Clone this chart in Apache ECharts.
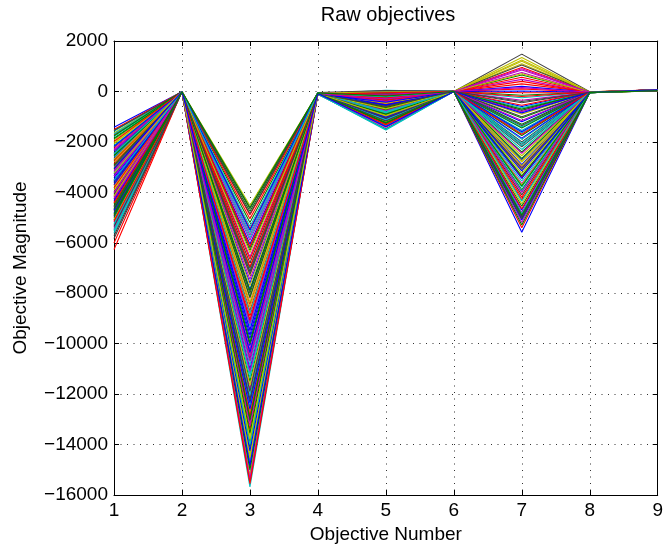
<!DOCTYPE html>
<html>
<head>
<meta charset="utf-8">
<script src="https://cdn.jsdelivr.net/npm/echarts@6/dist/echarts.min.js"></script>
<style>
  html, body { margin: 0; padding: 0; background: #fff; }
  #echart { width: 666px; height: 549px; }
</style>
</head>
<body>
<div id="echart"></div>
<script>
// objective numbers on the x axis
var objNumbers = [1, 2, 3, 4, 5, 6, 7, 8, 9];

// raw objective values, one entry per solution
var obj1 = [-3420, -1850, -4890, -2580, -5310, -2010, -3970, -1420, -4470, -2860,
            -5620, -3130, -1650, -4120, -2370, -5100, -3700, -2140, -4680, -1930,
            -4260, -3280, -2710, -6010, -1580, -5460, -3000, -2440, -4810, -3550,
            -1720, -5240, -2290, -3840, -4050, -2650, -5030, -1510, -3210, -4600,
            -2080, -5830, -3490, -2920, -4390, -1790, -5170, -3760, -2500, -4960,
            -3070, -2230, -5540, -4180, -2790, -3630, -3340, -4540, -6270, -2190,
            -5390, -3910, -4750, -4330, -2550, -4420, -1690, -3360, -5080, -2960,
            -4700, -1880, -3820, -5280, -2330, -4150, -1550, -3580, -4930, -2740,
            -5490, -3170, -2060, -4570, -3690, -1760, -5150, -2470, -4010, -3250,
            -5720, -2180, -4860, -1980, -3520, -4240, -2680, -5350, -3050, -4650];
var obj2 = [-12, -5, -20, -8, -15, -3, -25, -10, -18, -6,
            -22, -14, -9, -28, -4, -17, -11, -24, -7, -19,
            -13, -2, -26, -16, -8, -21, -5, -12, -30, -10,
            -15, -6, -23, -9, -18, -3, -27, -14, -11, -20,
            -7, -16, -25, -4, -13, -19, -8, -22, -12, -5,
            -29, -10, -17, -6, -24, -15, -9, -21, -3, -14,
            -26, -11, -18, -7, -16, -9, -21, -4, -27, -13,
            -7, -19, -11, -24, -6, -15, -28, -10, -18, -3,
            -22, -14, -8, -25, -12, -5, -20, -17, -9, -26,
            -13, -2, -23, -16, -7, -19, -11, -29, -6, -15];
var obj3 = [-9800, -5200, -13400, -7100, -11800, -4520, -10600, -14900, -6300, -8700,
            -12500, -5700, -15200, -9100, -7600, -13900, -4900, -11200, -8200, -14400,
            -6800, -10100, -12900, -5450, -15680, -9500, -7300, -13100, -6050, -11500,
            -8450, -14650, -5900, -10400, -12200, -7850, -4750, -15450, -9300, -6550,
            -13650, -8000, -11000, -14100, -5050, -10850, -7450, -12700, -6200, -9650,
            -15000, -8900, -5600, -13250, -11650, -7000, -14250, -9950, -6950, -12050,
            -10250, -8550, -4650, -12350, -8150, -12850, -5350, -10700, -14550, -7250,
            -9450, -13550, -6150, -11350, -15350, -8350, -4850, -12600, -10000, -6650,
            -14000, -9200, -7700, -11900, -5500, -13000, -15550, -8800, -10500, -6400,
            -12250, -14800, -7900, -9050, -5800, -11100, -13800, -7150, -10350, -4600];
var obj4 = [-70, -95, -55, -110, -80, -60, -100, -45, -85, -120,
            -65, -90, -75, -50, -105, -82, -58, -98, -72, -115,
            -62, -88, -48, -102, -78, -92, -56, -108, -68, -84,
            -52, -96, -74, -118, -64, -86, -46, -104, -76, -94,
            -60, -112, -70, -82, -54, -100, -66, -90, -42, -106,
            -80, -58, -98, -72, -114, -62, -88, -50, -102, -76,
            -92, -56, -110, -68, -84, -58, -102, -70, -92, -48,
            -110, -66, -96, -54, -78, -116, -62, -88, -44, -100,
            -74, -106, -60, -86, -52, -94, -72, -112, -64, -82,
            -56, -98, -76, -118, -50, -90, -68, -104, -80, -58];
var obj5 = [-420, -80, -960, 30, -610, -1180, -250, -760, 10, -1340,
            -520, -150, -880, -40, -1050, -330, -700, 50, -1250, -470,
            -120, -910, -560, -20, -1100, -290, -820, -1480, -380, -60,
            -990, -650, 20, -1210, -200, -540, -1400, -730, -100, -860,
            -450, -1020, 0, -310, -1290, -590, -170, -940, -680, -1150,
            -230, -500, -1530, -400, -790, -30, -1070, -360, -620, -1360,
            -270, -840, -130, -1000, -720, -160, -1130, -380, -930, 40,
            -560, -1260, -260, -850, -1420, -470, -90, -1010, -640, -1320,
            -210, -770, -10, -1170, -530, -900, -340, -1500, -110, -690,
            -1060, -430, -1230, -50, -800, -300, -970, -590, -1390, -180];
var obj6 = [0, 2, -3, 1, -1, 4, -2, 0, 3, -4,
            1, 0, -2, 2, -1, 5, 0, -3, 1, 2,
            -1, 0, 3, -2, 1, -4, 0, 2, -1, 1,
            4, -3, 0, 2, -2, 1, 0, -1, 3, -2,
            0, 1, -3, 2, 0, -1, 4, 1, -2, 0,
            3, -1, 2, 0, -4, 1, -2, 3, 0, -1,
            2, 1, -3, 0, 1, -2, 0, 3, -1, 2,
            -3, 0, 1, 4, -2, 0, 2, -1, 1, -4,
            0, 3, -2, 1, 0, -1, 2, -3, 0, 1,
            5, -2, 0, -1, 3, 1, -3, 0, 2, -1];
var obj7 = [-1200, 650, -3400, -250, -4800, 1100, -2100, -600, -3900, 300,
            -1650, -5200, -900, 1480, -2700, -150, -4300, -1400, 850, -3100,
            -450, -5580, -2400, 100, -1900, -3650, 1250, -750, -2900, -4550,
            -50, -1550, 480, -3250, -2200, -5000, -1050, 950, -3800, -350,
            -2550, -4100, 200, -1750, -5400, -650, -3000, 1350, -2000, -4700,
            -1300, 560, -3550, -800, -2800, -4950, 20, -1450, -4200, -2300,
            750, -3700, -1000, -5100, -2650, 400, -3950, -1150, -4450, 1050,
            -1850, -3350, -550, -4850, -2450, 700, -3050, -1600, -5300, -200,
            -2150, -4000, 1200, -1350, -3450, -700, -4650, -2050, 150, -2950,
            -5050, -850, -3750, -1700, -4350, 900, -2750, -400, -3150, -4900];
var obj8 = [-30, -22, -41, -27, -35, -18, -46, -25, -38, -20,
            -33, -44, -28, -16, -39, -24, -31, -48, -21, -36,
            -26, -42, -19, -34, -29, -45, -23, -37, -17, -32,
            -40, -26, -47, -21, -35, -28, -43, -18, -30, -38,
            -24, -49, -27, -33, -20, -41, -29, -36, -15, -44,
            -25, -31, -39, -22, -46, -28, -34, -19, -42, -26,
            -37, -23, -48, -30, -27, -40, -19, -35, -44, -23,
            -31, -47, -17, -38, -29, -42, -21, -33, -46, -25,
            -36, -18, -41, -28, -34, -48, -22, -39, -30, -16,
            -43, -26, -37, -20, -45, -32, -24, -40, -29, -35];
var obj9 = [45, 38, 56, 31, 62, 42, 50, 27, 66, 35,
            48, 58, 40, 24, 53, 44, 60, 33, 47, 68,
            37, 52, 29, 64, 43, 55, 36, 49, 21, 61,
            41, 57, 32, 46, 70, 39, 51, 26, 63, 45,
            54, 34, 59, 30, 48, 65, 38, 53, 23, 60,
            42, 50, 36, 67, 44, 28, 56, 40, 62, 33,
            47, 58, 25, 52, 39, 55, 30, 61, 46, 27,
            57, 43, 68, 35, 50, 22, 63, 41, 53, 32,
            59, 48, 26, 65, 37, 54, 44, 69, 31, 51,
            40, 58, 24, 62, 47, 34, 56, 42, 66, 29];

// matlab's old default line colour order
var lineColors = ['#0000ff', '#008000', '#ff0000', '#00bfbf', '#bf00bf', '#bfbf00', '#404040'];

var objectives = [obj1, obj2, obj3, obj4, obj5, obj6, obj7, obj8, obj9];
var series = [];
for (var i = 0; i < obj1.length; i++) {
    var pts = [];
    for (var k = 0; k < objNumbers.length; k++) {
        pts.push([objNumbers[k], objectives[k][i]]);
    }
    series.push({
        type: 'line',
        data: pts,
        showSymbol: false,
        symbol: 'none',
        silent: true,
        color: lineColors[i % lineColors.length],
        lineStyle: { width: 1.1 }
    });
}

var font = 'Liberation Sans, Arial, sans-serif';
var dots = { show: true, lineStyle: { color: '#333', width: 1, type: [1, 5.5] } };
var boxLine = { show: true, onZero: false, lineStyle: { color: '#000', width: 1 } };
var inTick = { show: true, inside: true, length: 5, lineStyle: { color: '#000' } };

var echart = echarts.init(document.getElementById('echart'));
echart.setOption({
    animation: false,
    backgroundColor: '#fff',
    title: {
        text: 'Raw objectives',
        left: 388, top: 5, padding: 0,
        textAlign: 'center',
        textStyle: { fontFamily: font, fontSize: 20, fontWeight: 'normal', color: '#000' }
    },
    grid: { left: 114, right: 6, top: 41, bottom: 54 },
    xAxis: [{
        type: 'value', min: 1, max: 9, interval: 1,
        name: 'Objective Number', nameLocation: 'middle', nameGap: 28,
        nameTextStyle: { fontFamily: font, fontSize: 19, color: '#000' },
        axisLine: boxLine,
        axisTick: inTick,
        axisLabel: { fontFamily: font, fontSize: 19, color: '#000', margin: 6 },
        splitLine: dots
    }, {
        type: 'value', min: 1, max: 9, interval: 1, position: 'top',
        axisLine: boxLine,
        axisTick: inTick,
        axisLabel: { show: false },
        splitLine: { show: false }
    }],
    yAxis: [{
        type: 'value', min: -16000, max: 2000, interval: 2000,
        name: 'Objective Magnitude', nameLocation: 'middle', nameGap: 84,
        nameTextStyle: { fontFamily: font, fontSize: 19, color: '#000' },
        axisLine: boxLine,
        axisTick: inTick,
        axisLabel: {
            fontFamily: font, fontSize: 19, color: '#000', margin: 6,
            formatter: function (v) { return String(v).replace('-', '\u2212'); }
        },
        splitLine: dots
    }, {
        type: 'value', min: -16000, max: 2000, interval: 2000, position: 'right',
        axisLine: boxLine,
        axisTick: inTick,
        axisLabel: { show: false },
        splitLine: { show: false }
    }],
    series: series
});
</script>
</body>
</html>
